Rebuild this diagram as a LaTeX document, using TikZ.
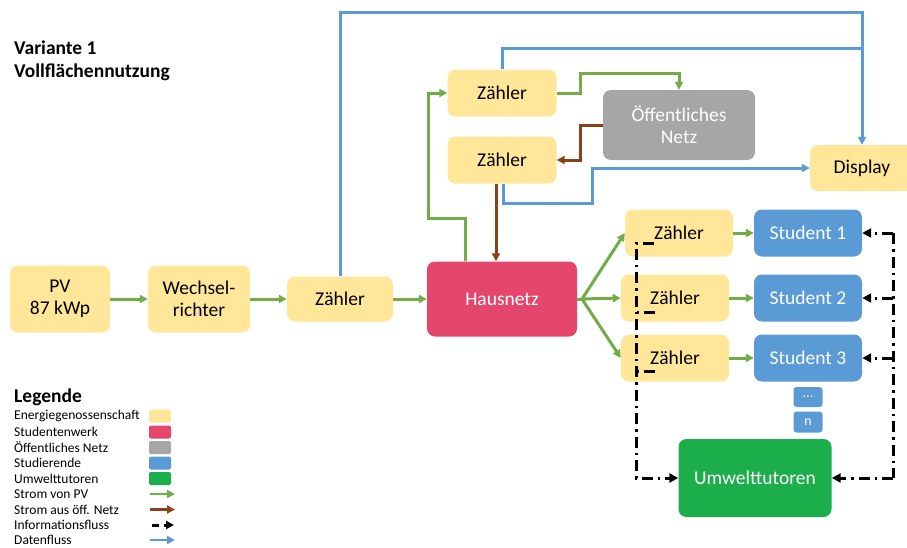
\documentclass[tikz,border=0pt]{standalone}
\usepackage{fontspec}
\setmainfont{Carlito}
\usetikzlibrary{arrows.meta}
\definecolor{cyel}{HTML}{FFE699}
\definecolor{cred}{HTML}{E5466B}
\definecolor{cgray}{HTML}{A6A6A6}
\definecolor{cblue}{HTML}{5B9BD5}
\definecolor{cgreen}{HTML}{1DAE4C}
\definecolor{lgreen}{HTML}{70AD47}
\definecolor{lbrown}{HTML}{8B4218}
\definecolor{lblue}{HTML}{5B9BD5}
\tikzset{
  box/.style={rounded corners=8pt, align=center, inner sep=0pt, font=\fontsize{19.5}{22}\selectfont},
  ybox/.style={box, fill=cyel, text=black},
  rbox/.style={box, fill=cred, text=white},
  gbox/.style={box, fill=cgray, text=white},
  bbox/.style={box, fill=cblue, text=white},
  ubox/.style={box, fill=cgreen, text=white},
  tip/.style={-{Triangle[length=8pt,width=8pt]}},
  gar/.style={draw=lgreen, line width=3pt, tip},
  gl/.style={draw=lgreen, line width=3pt},
  bar/.style={draw=lbrown, line width=3pt, tip},
  dar/.style={draw=lblue, line width=3pt, tip},
  dl/.style={draw=lblue, line width=3pt},
  infol/.style={draw=black, line width=3pt, dash pattern=on 11pt off 5pt on 2.5pt off 5pt},
  info/.style={infol, -{Triangle[length=9pt,width=9pt]}},
  leg/.style={anchor=west, inner sep=0pt, font=\fontsize{13.5}{15}\selectfont},
  sw/.style={rounded corners=2pt, minimum width=22pt, minimum height=13pt, inner sep=0pt},
}
\begin{document}
\begin{tikzpicture}[x=1pt,y=-1pt]
\useasboundingbox (0,0) rectangle (907,547);
% title
\node[anchor=west, inner sep=0pt, font=\bfseries\fontsize{19.5}{22}\selectfont] (t1) at (14,48) {Variante 1};
\node[anchor=west, inner sep=0pt, font=\bfseries\fontsize{19.5}{22}\selectfont] (t2) at (14,72) {Vollflächennutzung};
% main nodes
\node[ybox, minimum width=100pt, minimum height=67pt] (pv) at (60,299) {PV\\87 kWp};
\node[ybox, minimum width=102pt, minimum height=67pt] (wr) at (199,299) {Wechsel-\\richter};
\node[ybox, minimum width=106pt, minimum height=45pt] (z0) at (340,299) {Zähler};
\node[rbox, minimum width=150pt, minimum height=75pt] (haus) at (502,299) {Hausnetz};
\node[ybox, minimum width=109pt, minimum height=47pt] (z1) at (502,93) {Zähler};
\node[ybox, minimum width=109pt, minimum height=47pt] (z2) at (502,160) {Zähler};
\node[gbox, minimum width=152pt, minimum height=70pt] (oeff) at (679,125) {Öffentliches\\Netz};
\node[ybox, minimum width=104pt, minimum height=46pt] (disp) at (862,168) {Display};
\node[ybox, minimum width=108pt, minimum height=47pt] (zs1) at (679,233) {Zähler};
\node[ybox, minimum width=108pt, minimum height=47pt] (zs2) at (675,298) {Zähler};
\node[ybox, minimum width=108pt, minimum height=47pt] (zs3) at (675,358) {Zähler};
\node[bbox, minimum width=108pt, minimum height=47pt] (s1) at (808,233) {Student 1};
\node[bbox, minimum width=108pt, minimum height=47pt] (s2) at (808,298) {Student 2};
\node[bbox, minimum width=108pt, minimum height=47pt] (s3) at (808,358) {Student 3};
\node[bbox, rounded corners=3pt, minimum width=29pt, minimum height=20pt, font=\fontsize{14}{16}\selectfont] (dots) at (808,397) {...};
\node[bbox, rounded corners=3pt, minimum width=29pt, minimum height=21pt, font=\fontsize{14}{16}\selectfont] (sn) at (808,422) {n};
\node[ubox, minimum width=153pt, minimum height=78pt] (umw) at (755,478) {Umwelttutoren};
% coordinates
\coordinate (g2) at (465,218);
\coordinate (g1) at (428,218);
\coordinate (c1) at (580,73);
\coordinate (c2) at (580,160);
\coordinate (bx) at (496,0);
\coordinate (tb) at (862,12);
\coordinate (j1) at (862,48);
\coordinate (c3) at (592,203);
\coordinate (f) at (582,299);
\coordinate (i1) at (654,243);
\coordinate (i2) at (655,312);
\coordinate (i3) at (655,371);
\coordinate (iL) at (636,478);
\coordinate (iR) at (893,478);
\coordinate (iT) at (893,233);
% power flows
\draw[gar] (pv) -- (wr);
\draw[gar] (wr) -- (z0);
\draw[gar] (z0) -- (haus);
\draw[gar] (haus.north -| g2) -- (g2) -- (g1) |- (z1.west);
\draw[gar] (z1.east) -| (c1) -| (oeff.north);
\draw[bar] (oeff.west) -| (c2) -- (z2.east);
\draw[bar] (z2.south -| bx) -- (haus.north -| bx);
\draw[gl] (haus.east) -- (f);
\draw[gar] (f) -- (zs1.west);
\draw[gar] (f) -- (zs2.west);
\draw[gar] (f) -- (zs3.west);
\draw[gar] (zs1) -- (s1);
\draw[gar] (zs2) -- (s2);
\draw[gar] (zs3) -- (s3);
% data flows
\draw[dar] (z0.north) |- (tb) -- (disp.north);
\draw[dl] (z1.north) |- (j1);
\draw[dar] ([xshift=1pt]z2.south) |- (c3) |- (disp.west);
% info flows
\draw[info] (i1) -| (iL) -- (umw.west);
\draw[infol] (i2) -- (i2 -| iL);
\draw[infol] (i3) -- (i3 -| iL);
\draw[info] (iR) -- (umw.east);
\draw[infol] (iT) -- (iR);
\draw[info] (s1.east -| iR) -- (s1.east);
\draw[info] (s2.east -| iR) -- (s2.east);
\draw[info] (s3.east -| iR) -- (s3.east);
% legend
\node[anchor=west, inner sep=0pt, font=\bfseries\fontsize{19.5}{22}\selectfont] (lt) at (14,397) {Legende};
\node[leg] (l1) at (14,416) {Energiegenossenschaft};
\node[leg] (l2) at (14,432) {Studentenwerk};
\node[leg] (l3) at (14,447.5) {Öffentliches Netz};
\node[leg] (l4) at (14,463) {Studierende};
\node[leg] (l5) at (14,478.5) {Umwelttutoren};
\node[leg] (l6) at (14,494) {Strom von PV};
\node[leg] (l7) at (14,509.5) {Strom aus öff. Netz};
\node[leg] (l8) at (14,525) {Informationsfluss};
\node[leg] (l9) at (14,539.5) {Datenfluss};
\node[sw, fill=cyel] (w1) at (160,416) {};
\node[sw, fill=cred] (w2) at (160,432) {};
\node[sw, fill=cgray] (w3) at (160,447.5) {};
\node[sw, fill=cblue] (w4) at (160,463) {};
\node[sw, fill=cgreen] (w5) at (160,478.5) {};
\coordinate (a6) at (150,494); \coordinate (b6) at (175,494);
\coordinate (a7) at (150,509.5); \coordinate (b7) at (175,509.5);
\coordinate (a8) at (152,525); \coordinate (b8) at (174,525);
\coordinate (a9) at (150,540); \coordinate (b9) at (175,540);
\draw[gar, line width=2.5pt] (a6) -- (b6);
\draw[bar, line width=2.5pt] (a7) -- (b7);
\draw[draw=black, line width=3pt, dash pattern=on 7pt off 5pt, -{Triangle[length=8pt,width=8pt]}] (a8) -- (b8);
\draw[dar, line width=2.5pt] (a9) -- (b9);
\end{tikzpicture}
\end{document}
